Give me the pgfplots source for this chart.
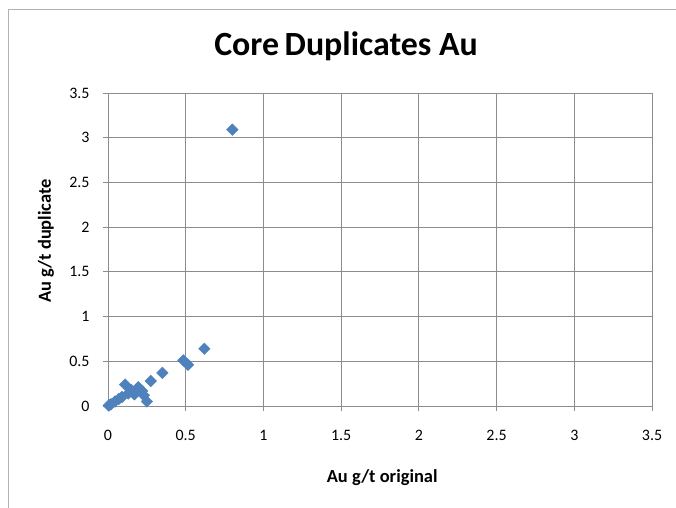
\documentclass[border=0pt]{standalone}
\usepackage{pgfplots}
\pgfplotsset{compat=1.18}
\usepackage{fontspec}
\setmainfont{Carlito}
\definecolor{excelblue}{HTML}{4F81BD}
\definecolor{gridgray}{HTML}{8C8C8C}
\begin{document}
\begin{tikzpicture}[x=1bp,y=1bp]
\useasboundingbox (0,0) rectangle (676,508);
\draw[color=gray!60, line width=1bp] (8,0) -- (8,498) -- (676,498);
\node[font=\bfseries\fontsize{34}{40}\selectfont, anchor=base] at (346,452) {Core\,Duplicates Au};
\begin{axis}[
  at={(108bp,102bp)}, anchor=origin,
  scale only axis, width=544bp, height=313bp,
  xmin=0, xmax=3.5, ymin=0, ymax=3.5,
  xtick={0,0.5,...,3.5}, ytick={0,0.5,...,3.5},
  xticklabels={0,0.5,1,1.5,2,2.5,3,3.5},
  yticklabels={0,0.5,1,1.5,2,2.5,3,3.5},
  grid=major,
  grid style={color=gridgray, line width=0.8bp},
  axis line style={color=gridgray, line width=0.8bp},
  major tick style={color=gridgray, line width=0.8bp},
  tick align=outside, major tick length=5bp,
  xtick pos=bottom, ytick pos=left,
  tick label style={font=\fontsize{16}{18}\selectfont},
  xticklabel style={yshift=-15.5bp},
  yticklabel style={xshift=-10bp},
  xlabel={Au g/t original}, ylabel={Au g/t duplicate},
  label style={font=\bfseries\fontsize{18.5}{21}\selectfont},
  xlabel style={at={(axis description cs:0.504,-0.23)}, anchor=center},
  ylabel style={at={(axis description cs:-0.114,0.527)}, anchor=center},
  clip=false,
]
\addplot[only marks, mark=square*, mark size=4.1bp,
  mark options={rotate=45, fill=excelblue, draw=excelblue}]
  coordinates {
  (0.80,3.09)
  (0.62,0.64)
  (0.485,0.51)
  (0.515,0.46)
  (0.35,0.37)
  (0.275,0.28)
  (0.11,0.24)
  (0.25,0.05)
  (0.22,0.17)
  (0.23,0.12)
  (0.195,0.21)
  (0.15,0.18)
  (0.13,0.14)
  (0.09,0.10)
  (0.07,0.08)
  (0.045,0.05)
  (0.02,0.02)
  (0.005,0.005)
  (0.01,0.01)
  (0.17,0.13)
  };
\end{axis}
\end{tikzpicture}
\end{document}
